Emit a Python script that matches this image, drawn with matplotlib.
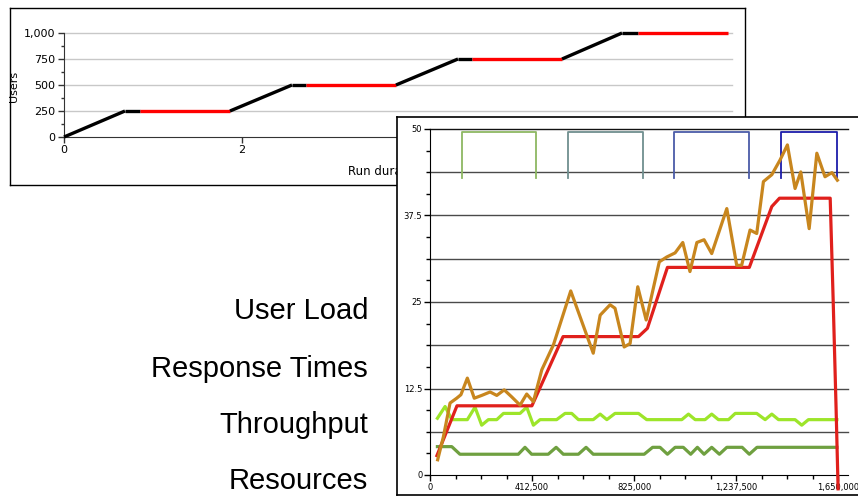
import matplotlib
matplotlib.use("Agg")
import matplotlib.pyplot as plt
from matplotlib.ticker import FuncFormatter, MultipleLocator
import numpy as np

# ---------------- data ----------------
# Top chart: user load profile (minutes vs users)
load_time = [0, 0.685, 0.854, 1.865, 2.562, 2.72, 3.73, 4.427, 4.584, 5.596, 6.27, 6.45, 7.46]
load_users = [0, 250, 250, 250, 500, 500, 500, 750, 750, 750, 1000, 1000, 1000]
load_phase = ["ramp", "warm", "steady", "ramp", "warm", "steady",
              "ramp", "warm", "steady", "ramp", "warm", "steady"]
top_yticks = [0, 250, 500, 750, 1000]
top_xticks = [0, 2, 4, 6]

# Bottom chart: time (ms) series
ul_x = [28, 109, 412, 538, 843, 879, 960, 1291, 1382, 1413, 1618, 1630, 1642, 1650]
ul_y = [2.8, 10, 10, 20, 20, 21.2, 30, 30, 38.8, 40, 40, 25.3, 9.4, -2.0]

rt_x = [31, 54, 81, 108, 125, 151, 179, 209, 243, 270, 300, 330, 364, 391, 418,
        452, 499, 569, 660, 688, 728, 748, 785, 809, 840, 874, 927, 957, 991,
        1022, 1051, 1079, 1108, 1139, 1200, 1240, 1260, 1294, 1321, 1348, 1382,
        1415, 1445, 1476, 1499, 1533, 1564, 1597, 1625, 1647]
rt_y = [2.2, 5.5, 10.4, 11.1, 11.6, 14.0, 11.1, 11.5, 12.0, 11.5, 12.3, 11.3,
        10.1, 11.7, 10.6, 15.2, 18.8, 26.6, 17.6, 23.1, 24.6, 24.1, 18.5, 19.0,
        27.2, 22.4, 30.8, 31.5, 32.1, 33.6, 29.4, 33.6, 34.0, 32.0, 38.5, 30.3,
        30.3, 35.4, 34.9, 42.4, 43.4, 45.5, 47.7, 41.4, 43.8, 35.6, 46.5, 43.1,
        43.7, 42.6]

tp_x = [30, 61, 88, 151, 182, 209, 236, 270, 297, 364, 391, 418, 445, 512, 546,
        573, 600, 660, 688, 715, 748, 843, 876, 1018, 1045, 1072, 1112, 1139,
        1166, 1207, 1234, 1321, 1355, 1382, 1409, 1476, 1503, 1530, 1645]
tp_y = [8.2, 9.9, 8.0, 8.0, 9.8, 7.2, 8.0, 8.0, 8.9, 8.9, 9.8, 7.2, 8.0, 8.0,
        8.9, 8.9, 8.0, 8.0, 8.8, 8.0, 8.9, 8.9, 8.0, 8.0, 8.8, 8.0, 8.0, 8.8,
        8.0, 8.0, 8.9, 8.9, 8.0, 8.8, 8.0, 8.0, 7.2, 8.0, 8.0]

rs_x = [30, 88, 121, 357, 384, 411, 478, 510, 539, 600, 631, 660, 866, 900, 930,
        960, 991, 1024, 1054, 1081, 1108, 1139, 1170, 1200, 1262, 1291, 1322, 1645]
rs_y = [4.1, 4.1, 3.0, 3.0, 4.0, 3.0, 3.0, 4.0, 3.0, 3.0, 4.0, 3.0, 3.0, 4.0,
        4.0, 3.0, 4.0, 4.0, 3.0, 4.0, 3.0, 4.0, 3.0, 4.0, 4.0, 3.0, 4.0, 4.0]

# step-phase markers at top of bottom chart
step_start = [129.4, 558.1, 986.8, 1419.5]
step_end = [428.7, 861.4, 1290.0, 1646.0]
step_low, step_high = 42.9, 49.5
step_colors = ["#8db862", "#6f8f8f", "#4b5ca8", "#1c1caa"]

bottom_grid = [6.25, 12.5, 18.75, 25, 31.25, 37.5, 43.75, 50]
bottom_yticks = [0, 12.5, 25, 37.5, 50]
bottom_xticks = [0, 412500, 825000, 1237500, 1650000]

side_labels = ["User Load", "Response Times", "Throughput", "Resources"]
side_baselines = [319, 377, 433, 489]

# ---------------- figure ----------------
W, H = 858, 496
fig = plt.figure(figsize=(W / 100, H / 100), dpi=100)
fig.patch.set_facecolor("white")


def fx(px):
    return px / W


def fy(py):
    return 1 - py / H


# top frame
axf1 = fig.add_axes([fx(10), fy(185), (745 - 10) / W, (185 - 8) / H], zorder=0)
axf1.set_xticks([]); axf1.set_yticks([])
for s in axf1.spines.values():
    s.set_color("black"); s.set_linewidth(1)

# top chart
ax1 = fig.add_axes([fx(64), fy(137), (731.5 - 64) / W, (137 - 33) / H], zorder=1)
ax1.set_facecolor("none")
ax1.set_xlim(0, 7.5)
ax1.set_ylim(0, 1000)
for lvl in top_yticks[1:]:
    ax1.axhline(lvl, color="#c8c8c8", lw=1, zorder=1, clip_on=False)
for i in range(len(load_time) - 1):
    col = "#ff0000" if load_phase[i] == "steady" else "black"
    ax1.plot(load_time[i:i + 2], load_users[i:i + 2], color=col, lw=2.4,
             solid_capstyle="butt", zorder=3, clip_on=False)
ax1.spines["top"].set_visible(False)
ax1.spines["right"].set_visible(False)
for s in ("left", "bottom"):
    ax1.spines[s].set_color("#333333")
ax1.set_yticks(top_yticks)
ax1.yaxis.set_minor_locator(MultipleLocator(125))
ax1.yaxis.set_major_formatter(FuncFormatter(lambda v, p: f"{v:,.0f}"))
ax1.set_xticks(top_xticks)
ax1.tick_params(axis="both", which="major", length=4, width=1, color="#333333",
                labelsize=8, pad=2)
ax1.tick_params(axis="y", which="minor", length=2.5, width=1, color="#333333")
ax1.text(fx(14), fy(86), "Users", transform=fig.transFigure, rotation=90,
         ha="center", va="center", fontsize=8)
ax1.text(fx(348), fy(172), "Run duration (minutes)", transform=fig.transFigure,
         ha="left", va="center", fontsize=8.5)

# bottom frame
axf2 = fig.add_axes([fx(397), 0.002, (W + 10 - 397) / W, (496 - 118) / H], zorder=2)
axf2.set_facecolor("white")
axf2.set_xticks([]); axf2.set_yticks([])
for s in axf2.spines.values():
    s.set_color("black"); s.set_linewidth(1.2)

# bottom chart
ax2 = fig.add_axes([fx(430), fy(475), 418 / W, 346 / H], zorder=3)
ax2.set_facecolor("none")
ax2.set_xlim(0, 1690000)
ax2.set_ylim(0, 50)
for lvl in bottom_grid:
    ax2.axhline(lvl, color="#111111" if lvl == 50 else "#4a4a4a", lw=1, zorder=1,
                clip_on=False)
for s0, s1, c in zip(step_start, step_end, step_colors):
    ax2.plot(np.array([s0, s0, s1, s1]) * 1000,
             [step_low, step_high, step_high, step_low], color=c, lw=1.3, zorder=2)
ax2.plot(np.array(rs_x) * 1000, rs_y, color="#6fa040", lw=2.3, zorder=3,
         solid_joinstyle="round")
ax2.plot(np.array(tp_x) * 1000, tp_y, color="#9de52a", lw=2.3, zorder=4,
         solid_joinstyle="round")
ax2.plot(np.array(ul_x) * 1000, ul_y, color="#e0201c", lw=2.3, zorder=5,
         solid_joinstyle="round", clip_on=False)
ax2.plot(np.array(rt_x) * 1000, rt_y, color="#c8861e", lw=2.3, zorder=6,
         solid_joinstyle="round")
ax2.spines["top"].set_visible(False)
ax2.spines["right"].set_visible(False)
ax2.spines["left"].set_color("black")
ax2.spines["bottom"].set_color("black")
ax2.set_yticks(bottom_yticks)
ax2.yaxis.set_minor_locator(MultipleLocator(3.125))
ax2.yaxis.set_major_formatter(FuncFormatter(lambda v, p: f"{v:g}"))
ax2.set_xticks(bottom_xticks)
ax2.xaxis.set_minor_locator(MultipleLocator(103125))
ax2.xaxis.set_major_formatter(FuncFormatter(lambda v, p: f"{v:,.0f}"))
ax2.tick_params(axis="both", which="major", length=4, width=1, color="black",
                labelsize=6, pad=1.5)
ax2.tick_params(axis="both", which="minor", length=3, width=1, color="black")

# side labels
for lab, base in zip(side_labels, side_baselines):
    fig.text(fx(368), fy(base), lab, ha="right", va="baseline",
             fontsize=21, family=["Liberation Sans", "DejaVu Sans"])

fig.savefig("out.png", dpi=100, facecolor="white")
